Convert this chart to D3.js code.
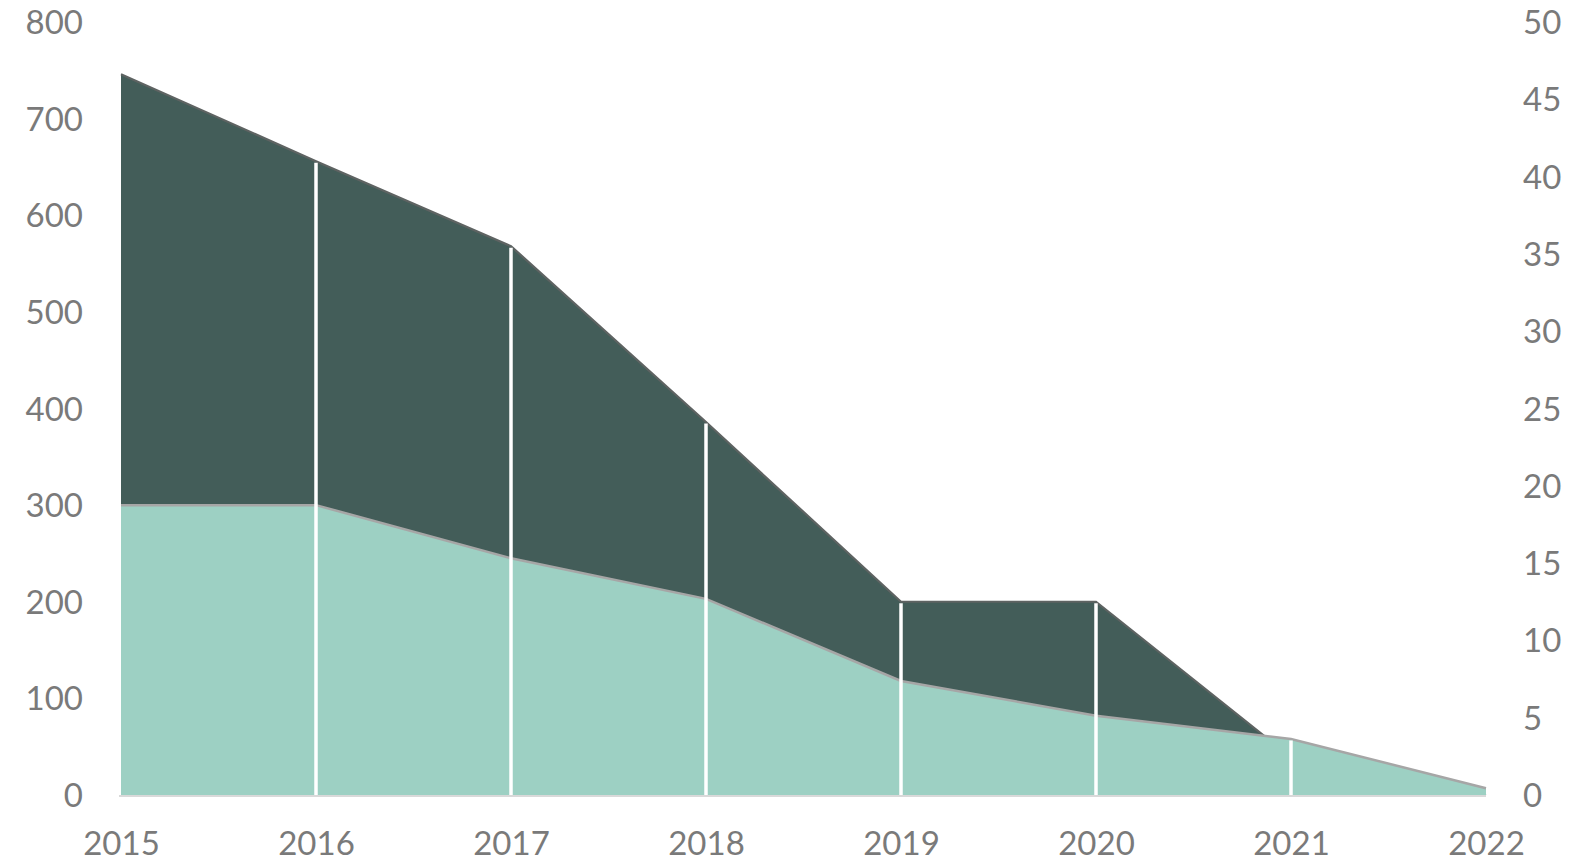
<!DOCTYPE html>
<html>
<head>
<meta charset="utf-8">
<script src="https://cdn.jsdelivr.net/npm/d3@7"></script>
<style>
  html, body { margin: 0; padding: 0; background: #ffffff; }
  svg { display: block; }
  .tick text { font-family: Lato, "Open Sans", sans-serif; font-size: 33px; fill: #7a7a7a; }
</style>
</head>
<body>
<svg id="chart" width="1594" height="863"></svg>
<script>
// ---- data ----
const years = ["2015", "2016", "2017", "2018", "2019", "2020", "2021", "2022"];
const darkValues = [746, 656, 568, 386, 200, 200, 39, 0];
const lightValues = [300, 300, 245, 203, 118, 82, 58, 7];
const leftTicks = [0, 100, 200, 300, 400, 500, 600, 700, 800];
const rightTicks = [0, 5, 10, 15, 20, 25, 30, 35, 40, 45, 50];

// ---- layout ----
const W = 1594, H = 863;
const x0 = 121, x1 = 1486, yTop = 22, yBottom = 795;

const svg = d3.select("#chart");

const x = d3.scalePoint().domain(years).range([x0, x1]);
const y = d3.scaleLinear().domain([0, 800]).range([yBottom, yTop]);
const y2 = d3.scaleLinear().domain([0, 50]).range([yBottom, yTop]);

const rowsDark = years.map((yr, i) => ({ yr, v: darkValues[i] }));
const rowsLight = years.map((yr, i) => ({ yr, v: lightValues[i] }));

const area = d3.area().x(d => x(d.yr)).y0(y(0)).y1(d => y(d.v));
const line = d3.line().x(d => x(d.yr)).y(d => y(d.v));

// dark area (behind)
svg.append("path").datum(rowsDark)
  .attr("d", area).attr("fill", "#435d59");
svg.append("path").datum(rowsDark)
  .attr("d", line).attr("fill", "none")
  .attr("stroke", "#5e6362").attr("stroke-width", 2.2);

// light area
svg.append("path").datum(rowsLight)
  .attr("d", area).attr("fill", "#9dd0c3");
svg.append("path").datum(rowsLight)
  .attr("d", line).attr("fill", "none")
  .attr("stroke", "#a6a6a6").attr("stroke-width", 2.5);

// drop lines (white) from the highest series down to the axis
const drops = years.map((yr, i) => ({ yr, v: Math.max(darkValues[i], lightValues[i]) }))
  .filter((d, i) => i > 0 && i < years.length - 1);
svg.append("g").selectAll("line").data(drops).join("line")
  .attr("x1", d => x(d.yr)).attr("x2", d => x(d.yr))
  .attr("y1", d => y(d.v) + 1.5).attr("y2", yBottom)
  .attr("stroke", "#ffffff").attr("stroke-width", 3.5);

// category axis line
svg.append("line")
  .attr("x1", x0 - 2).attr("x2", x1).attr("y1", yBottom + 1).attr("y2", yBottom + 1)
  .attr("stroke", "#d9d9d9").attr("stroke-width", 2);

// left axis
const gl = svg.append("g").attr("transform", `translate(${83},0)`)
  .call(d3.axisLeft(y).tickValues(leftTicks).tickSize(0).tickPadding(0).tickFormat(d3.format("d")));
gl.select(".domain").remove();
gl.selectAll(".tick text").attr("dy", "0.35em");

// right axis
const gr = svg.append("g").attr("transform", `translate(${1523},0)`)
  .call(d3.axisRight(y2).tickValues(rightTicks).tickSize(0).tickPadding(0).tickFormat(d3.format("d")));
gr.select(".domain").remove();
gr.selectAll(".tick text").attr("dy", "0.35em");

// bottom axis
const gb = svg.append("g").attr("transform", `translate(0,${832})`)
  .call(d3.axisBottom(x).tickSize(0).tickPadding(0));
gb.select(".domain").remove();
gb.selectAll(".tick text").attr("dy", "0.71em");
</script>
</body>
</html>
